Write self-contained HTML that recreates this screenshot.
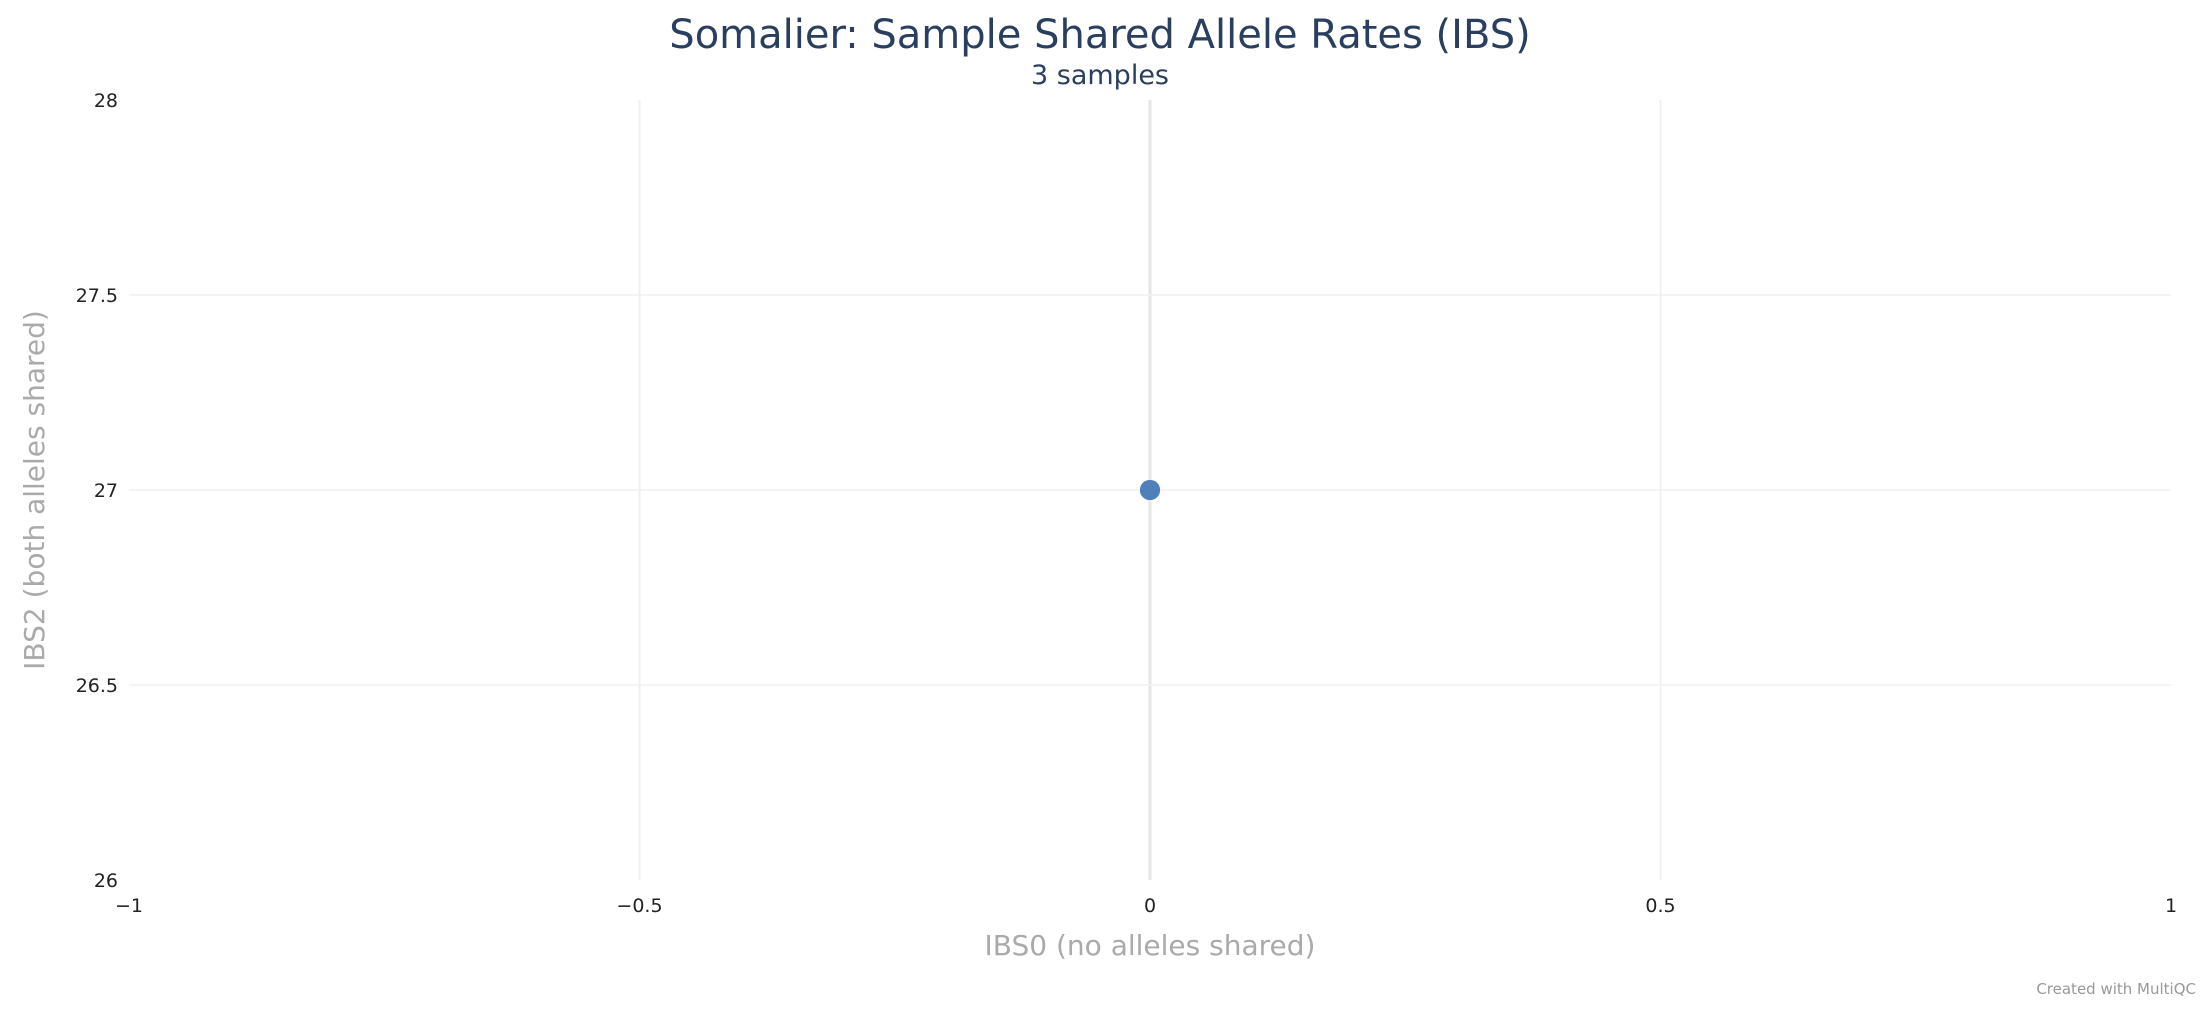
<!DOCTYPE html>
<html><head><meta charset="utf-8"><style>
html,body{margin:0;padding:0;background:#fff;}
svg{display:block;font-family:"DejaVu Sans","Liberation Sans",sans-serif;}
</style></head><body>
<svg id="chart" width="2200" height="1010" viewBox="0 0 2200 1010">
<text x="1100" y="48" text-anchor="middle" font-size="40" fill="#2a3f5f">Somalier: Sample Shared Allele Rates (IBS)</text>
<text x="1100" y="84" text-anchor="middle" font-size="27" fill="#2a3f5f">3 samples</text>
<g id="grid"></g>
<g id="ticks"></g>
<g id="points"></g>
<text x="1150" y="955" text-anchor="middle" font-size="28" fill="#aaa">IBS0 (no alleles shared)</text>
<text transform="translate(44,490) rotate(-90)" text-anchor="middle" font-size="28" fill="#aaa">IBS2 (both alleles shared)</text>
<text x="2196" y="994" text-anchor="end" font-size="15" fill="#999">Created with MultiQC</text>
</svg>
<script>
const xTicks=[-1,-0.5,0,0.5,1];
const yTicks=[26,26.5,27,27.5,28];
const xTickLabels=["\u22121","\u22120.5","0","0.5","1"];
const yTickLabels=["26","26.5","27","27.5","28"];
const ibs0=[0,0,0];
const ibs2=[27,27,27];
const L=129,R=2171,T=100,B=880;
const xs=v=>L+(v-(-1))/2*(R-L);
const ys=v=>B-(v-26)/2*(B-T);
const NS="http://www.w3.org/2000/svg";
const grid=document.getElementById('grid'),ticks=document.getElementById('ticks'),pts=document.getElementById('points');
function mk(tag,attrs,parent){const e=document.createElementNS(NS,tag);for(const k in attrs)e.setAttribute(k,attrs[k]);parent.appendChild(e);return e;}
xTicks.forEach((v,i)=>{
  if(i>0&&i<xTicks.length-1){
    const ln=mk('line',{x1:xs(v),x2:xs(v),y1:T,y2:B,stroke:v===0?'#e6e6e6':'#f0f0f0','stroke-width':v===0?3:2},grid);
    
    
  }
  const t=mk('text',{x:xs(v),y:912,'text-anchor':'middle','font-size':19,fill:'#222'},ticks);
  t.textContent=xTickLabels[i];
  
  
});
yTicks.forEach((v,i)=>{
  if(i>0&&i<yTicks.length-1){
    const ln=mk('line',{x1:L,x2:R,y1:ys(v),y2:ys(v),stroke:'#f0f0f0','stroke-width':1.5},grid);
    
    
  }
  const t=mk('text',{x:118,y:ys(v)+7,'text-anchor':'end','font-size':19,fill:'#222'},ticks);
  t.textContent=yTickLabels[i];
  
  
});
ibs0.forEach((v,i)=>{
  const c=mk('circle',{cx:xs(v),cy:ys(ibs2[i]),r:10,fill:'#4f7fba','fill-opacity':0.9},pts);
  
  
});
</script>
</body></html>
